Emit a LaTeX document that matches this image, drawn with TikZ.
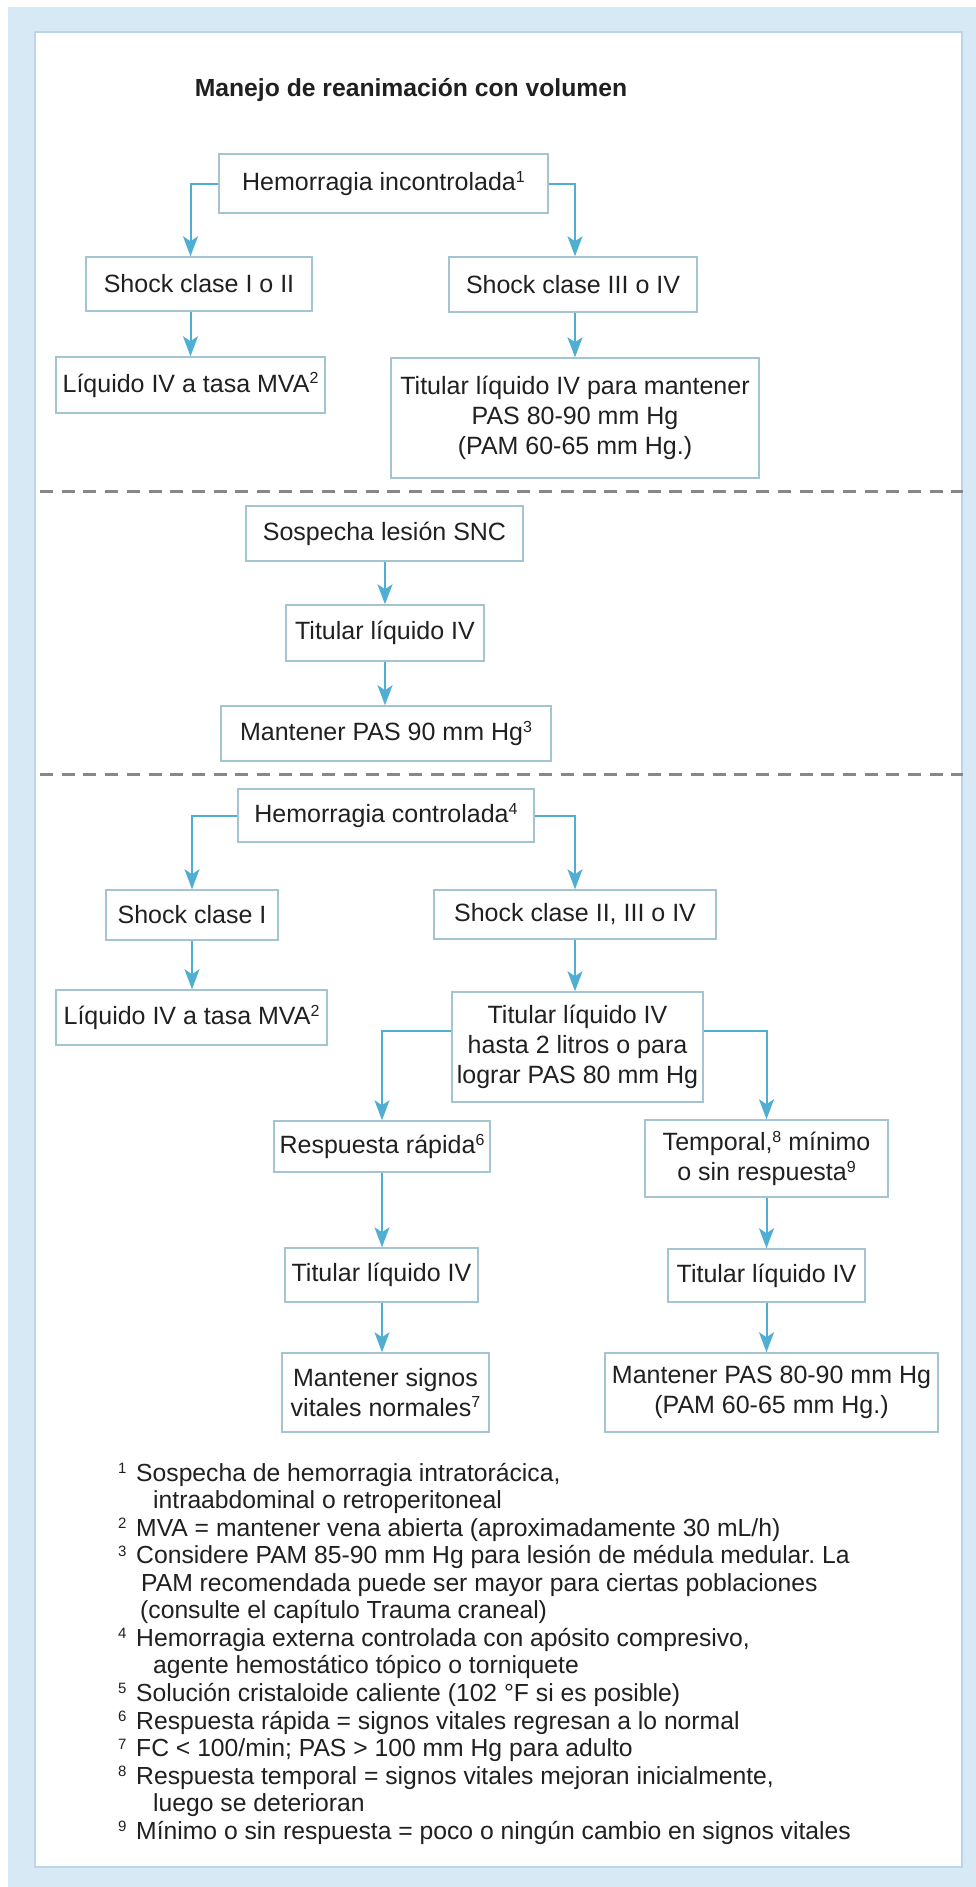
\documentclass[tikz,border=0pt]{standalone}
\usepackage{fontspec}
\setmainfont{Liberation Sans}
\usetikzlibrary{arrows.meta}
\frenchspacing

\definecolor{bandblue}{RGB}{214,233,245}
\definecolor{edgeblue}{RGB}{186,214,232}
\definecolor{boxline}{RGB}{163,196,209}
\definecolor{arrowblue}{RGB}{80,174,210}
\definecolor{dashgray}{RGB}{135,135,135}
\definecolor{inkgray}{RGB}{32,32,32}

\newcommand\boxfont{\fontsize{25}{30}\selectfont}
\newcommand\notefont{\fontsize{24.7}{27.5}\selectfont}
\newcommand\headfont{\fontsize{24.7}{30}\selectfont\bfseries}
% small raised reference digits
\newcommand\sups[1]{\raisebox{8.5pt}{\fontsize{16}{16}\selectfont #1}}
\newcommand\fnmark[1]{\makebox[18pt][l]{\raisebox{7.5pt}{\fontsize{15}{15}\selectfont #1}}}

\tikzset{
  box/.style={draw=boxline, line width=1.5pt, fill=white, inner sep=0pt,
    align=center, font=\boxfont, text=inkgray},
  flow/.style={draw=arrowblue, line width=2pt,
    -{Stealth[length=20pt,width=15pt,inset=5pt]}},
  divider/.style={draw=dashgray, line width=3pt, dash pattern=on 13pt off 8.7pt},
  note/.style={anchor=base west, inner sep=0pt, font=\notefont, text=inkgray},
}

\begin{document}
\begin{tikzpicture}[x=1pt,y=-1pt]
\useasboundingbox (0,0) rectangle (976,1887);

% frame
\fill[bandblue] (8,7) rectangle (976,1887);
\filldraw[fill=white, draw=edgeblue, line width=1.5pt] (35,32) rectangle (962,1867);

% title
\node[anchor=base, inner sep=0pt, font=\headfont, text=inkgray] (title) at (411,96)
  {Manejo de reanimación con volumen};

% section 1: uncontrolled haemorrhage
\node[box, minimum width=329pt, minimum height=59pt] (HI) at (383.5,183.5)
  {Hemorragia incontrolada\sups{1}};
\node[box, minimum width=226pt, minimum height=54pt] (S12) at (199,284)
  {Shock clase I o II};
\node[box, minimum width=248pt, minimum height=55pt] (S34) at (573,284.5)
  {Shock clase III o IV};
\node[box, minimum width=269pt, minimum height=56pt] (L1) at (190.5,385)
  {Líquido IV a tasa MVA\sups{2}};
\node[box, minimum width=368pt, minimum height=120pt] (T1) at (575,418)
  {Titular líquido IV para mantener\\PAS 80-90 mm Hg\\(PAM 60-65 mm Hg.)};

\draw[divider] (40,491) -- (963,491);

% section 2: suspected CNS injury
\node[box, minimum width=277pt, minimum height=55pt] (SNC) at (384.5,533.5)
  {Sospecha lesión SNC};
\node[box, minimum width=198pt, minimum height=56pt] (T2) at (385,633)
  {Titular líquido IV};
\node[box, minimum width=330pt, minimum height=55pt] (M90) at (386,733.5)
  {Mantener PAS 90 mm Hg\sups{3}};

\draw[divider] (40,774) -- (963,774);

% section 3: controlled haemorrhage
\node[box, minimum width=296pt, minimum height=53pt] (HC) at (386,815.5)
  {Hemorragia controlada\sups{4}};
\node[box, minimum width=172pt, minimum height=50pt] (S1) at (192,915)
  {Shock clase I};
\node[box, minimum width=282pt, minimum height=49pt] (S234) at (575,914.5)
  {Shock clase II, III o IV};
\node[box, minimum width=271pt, minimum height=55pt] (L2) at (191.5,1017.5)
  {Líquido IV a tasa MVA\sups{2}};
\node[box, minimum width=251pt, minimum height=110pt] (T3) at (577.5,1047)
  {Titular líquido IV\\hasta 2 litros o para\\lograr PAS 80 mm Hg};
\node[box, minimum width=216pt, minimum height=51pt] (RR) at (382,1146.5)
  {Respuesta rápida\sups{6}};
\node[box, minimum width=243pt, minimum height=77pt] (TM) at (766.5,1158.5)
  {Temporal,\sups{8} mínimo\\o sin respuesta\sups{9}};
\node[box, minimum width=193pt, minimum height=54pt] (T4) at (381.5,1275)
  {Titular líquido IV};
\node[box, minimum width=197pt, minimum height=53pt] (T5) at (766.5,1275.5)
  {Titular líquido IV};
\node[box, minimum width=207pt, minimum height=79pt] (MS) at (385.5,1392.5)
  {Mantener signos\\vitales normales\sups{7}};
\node[box, minimum width=333pt, minimum height=79pt] (M8090) at (771.5,1392.5)
  {Mantener PAS 80-90 mm Hg\\(PAM 60-65 mm Hg.)};

% connectors
\draw[flow] (HI.west) -| (L1.north |- S12.north);
\draw[flow] (HI.east) -| (T1.north |- S34.north);
\draw[flow] (L1.north |- S12.south) -- (L1.north);
\draw[flow] (T1.north |- S34.south) -- (T1.north);

\draw[flow] (T2.north |- SNC.south) -- (T2.north);
\draw[flow] (T2.south) -- (T2.south |- M90.north);

\draw[flow] (HC.west) -| (S1.north);
\draw[flow] (HC.east) -| (S234.north);
\draw[flow] (S1.south) -- (S1.south |- L2.north);
\draw[flow] (S234.south) -- (S234.south |- T3.north);
\draw[flow] ([yshift=16pt]T3.west) -| (RR.north);
\draw[flow] ([yshift=16pt]T3.east) -| (TM.north);
\draw[flow] (RR.south) -- (RR.south |- T4.north);
\draw[flow] (TM.south) -- (TM.south |- T5.north);
\draw[flow] (RR.south |- T4.south) -- (RR.south |- MS.north);
\draw[flow] (TM.south |- T5.south) -- (TM.south |- M8090.north);

% footnotes
\node[note] (fn1)  at (118,1481.0) {\fnmark{1}Sospecha de hemorragia intratorácica,};
\node[note] (fn2)  at (153,1508.5) {intraabdominal o retroperitoneal};
\node[note] (fn3)  at (118,1536.1) {\fnmark{2}MVA = mantener vena abierta (aproximadamente 30 mL/h)};
\node[note] (fn4)  at (118,1563.6) {\fnmark{3}Considere PAM 85-90 mm Hg para lesión de médula medular. La};
\node[note] (fn5)  at (141,1591.2) {PAM recomendada puede ser mayor para ciertas poblaciones};
\node[note] (fn6)  at (140,1618.8) {(consulte el capítulo Trauma craneal)};
\node[note] (fn7)  at (118,1646.3) {\fnmark{4}Hemorragia externa controlada con apósito compresivo,};
\node[note] (fn8)  at (153,1673.9) {agente hemostático tópico o torniquete};
\node[note] (fn9)  at (118,1701.4) {\fnmark{5}Solución cristaloide caliente (102 °F si es posible)};
\node[note] (fn10) at (118,1729.0) {\fnmark{6}Respuesta rápida = signos vitales regresan a lo normal};
\node[note] (fn11) at (118,1756.5) {\fnmark{7}FC < 100/min; PAS > 100 mm Hg para adulto};
\node[note] (fn12) at (118,1784.1) {\fnmark{8}Respuesta temporal = signos vitales mejoran inicialmente,};
\node[note] (fn13) at (153,1811.6) {luego se deterioran};
\node[note] (fn14) at (118,1839.2) {\fnmark{9}Mínimo o sin respuesta = poco o ningún cambio en signos vitales};
\end{tikzpicture}
\end{document}
